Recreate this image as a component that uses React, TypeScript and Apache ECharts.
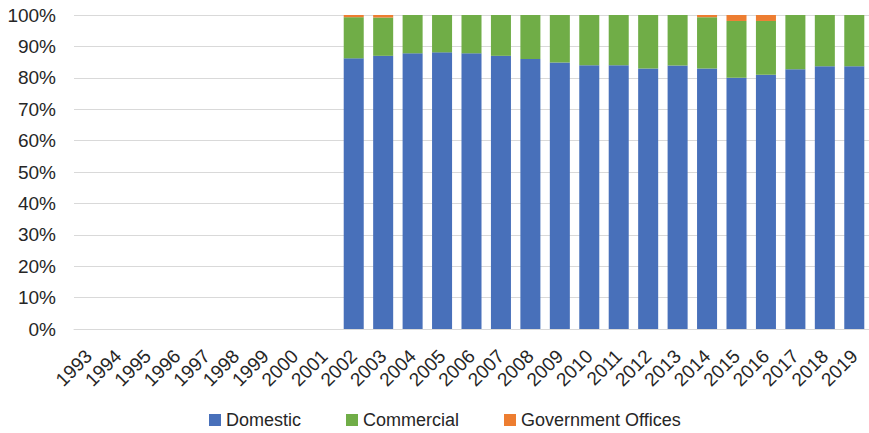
import React, { useEffect, useRef } from "react";
import * as echarts from "echarts";

const years = ["1993","1994","1995","1996","1997","1998","1999","2000","2001","2002","2003","2004","2005","2006","2007","2008","2009","2010","2011","2012","2013","2014","2015","2016","2017","2018","2019"];
const domestic = [null,null,null,null,null,null,null,null,null,86.2,87.0,87.8,88.1,87.8,87.0,86.0,84.9,84.0,84.0,83.0,83.9,83.0,80.0,81.0,82.7,83.7,83.7];
const commercial = [null,null,null,null,null,null,null,null,null,13.1,12.2,12.2,11.9,12.2,13.0,14.0,15.1,16.0,16.0,17.0,16.1,16.3,18.1,17.1,17.3,16.3,16.3];
const government = [null,null,null,null,null,null,null,null,null,0.7,0.8,0,0,0,0,0,0,0,0,0,0,0.7,1.9,1.9,0,0,0];
const yTicks = [0, 10, 20, 30, 40, 50, 60, 70, 80, 90, 100];

const FONT = "'Liberation Sans', Arial, sans-serif";

export default function App() {
  const ref = useRef<HTMLDivElement>(null);
  useEffect(() => {
    const chart = echarts.init(ref.current!, null, { renderer: "svg" });
    const mk = (name: string, data: (number | null)[], color: string) => ({
      name,
      type: "bar",
      stack: "total",
      data,
      barCategoryGap: "32%",
      itemStyle: { color },
    });
    chart.setOption({
      animation: false,
      textStyle: { fontFamily: FONT },
      grid: { left: 74, right: -4, top: 15, bottom: 104, containLabel: false },
      legend: {
        top: 406,
        left: 204,
        itemWidth: 12,
        itemHeight: 12,
        itemGap: 45,
        icon: "rect",
        textStyle: { fontSize: 18, color: "#262626", fontFamily: FONT },
        data: ["Domestic", "Commercial", "Government Offices"],
      },
      xAxis: {
        type: "category",
        data: years,
        axisLine: { lineStyle: { color: "#d9d9d9" } },
        axisTick: { show: false },
        axisLabel: {
          rotate: 45,
          interval: 0,
          fontSize: 19,
          color: "#262626",
          margin: 24,
          fontFamily: FONT,
        },
      },
      yAxis: {
        type: "value",
        min: yTicks[0],
        max: yTicks[yTicks.length - 1],
        interval: 10,
        axisLine: { show: false },
        axisTick: { show: false },
        splitLine: { lineStyle: { color: "#d9d9d9" } },
        axisLabel: {
          formatter: (v: number) => v + "%",
          fontSize: 19,
          color: "#262626",
          margin: 18,
          fontFamily: FONT,
        },
      },
      series: [
        mk("Domestic", domestic, "#4870BA"),
        mk("Commercial", commercial, "#70AD47"),
        mk("Government Offices", government, "#ED7D31"),
      ],
    });
    return () => chart.dispose();
  }, []);
  return <div ref={ref} style={{ width: 869, height: 433, position: "absolute", left: 0, top: 0 }} />;
}
